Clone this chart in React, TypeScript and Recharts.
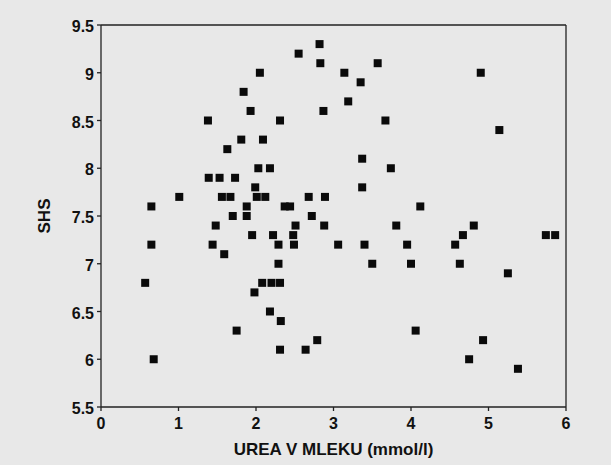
import React from 'react';
import { ScatterChart, Scatter, XAxis, YAxis, ReferenceLine } from 'recharts';

const urea: number[] = [
  2.82, 2.55, 2.83, 3.57, 2.05, 3.14, 4.9, 3.35, 1.84, 3.19, 1.93, 2.87, 1.38, 2.31, 3.67, 5.14,
  1.81, 2.09, 1.63, 3.37, 2.03, 2.18, 3.74, 1.39, 1.53, 1.73, 1.99, 3.37, 1.01, 1.56, 1.67, 2.01,
  2.12, 2.68, 2.89, 0.65, 1.88, 2.37, 2.44, 4.12, 1.7, 1.88, 2.72, 1.48, 2.51, 2.88, 3.81, 4.81,
  1.95, 2.22, 2.48, 4.67, 5.74, 5.86, 0.65, 1.44, 2.29, 2.49, 3.06, 3.4, 3.95, 4.57, 1.59, 2.29,
  3.5, 4.0, 4.63, 5.25, 0.57, 2.08, 2.2, 2.31, 1.98, 2.18, 2.32, 1.75, 4.06, 4.93, 2.79, 2.31,
  2.64, 0.68, 4.75, 5.38,
];
const shs: number[] = [
  9.3, 9.2, 9.1, 9.1, 9.0, 9.0, 9.0, 8.9, 8.8, 8.7, 8.6, 8.6, 8.5, 8.5, 8.5, 8.4,
  8.3, 8.3, 8.2, 8.1, 8.0, 8.0, 8.0, 7.9, 7.9, 7.9, 7.8, 7.8, 7.7, 7.7, 7.7, 7.7,
  7.7, 7.7, 7.7, 7.6, 7.6, 7.6, 7.6, 7.6, 7.5, 7.5, 7.5, 7.4, 7.4, 7.4, 7.4, 7.4,
  7.3, 7.3, 7.3, 7.3, 7.3, 7.3, 7.2, 7.2, 7.2, 7.2, 7.2, 7.2, 7.2, 7.2, 7.1, 7.0,
  7.0, 7.0, 7.0, 6.9, 6.8, 6.8, 6.8, 6.8, 6.7, 6.5, 6.4, 6.3, 6.3, 6.2, 6.2, 6.1,
  6.1, 6.0, 6.0, 5.9,
];
const xTicks: number[] = [0, 1, 2, 3, 4, 5, 6];
const yTicks: number[] = [5.5, 6, 6.5, 7, 7.5, 8, 8.5, 9, 9.5];
const xTitle = 'UREA V MLEKU (mmol/l)';
const yTitle = 'SHS';

const data = urea.map((u, i) => ({ x: u, y: shs[i] }));

const BG = '#e8e8e8';
if (typeof document !== 'undefined') {
  document.body.style.background = BG;
  document.body.style.margin = '0';
  document.documentElement.style.background = BG;
}

const FONT = 'Arial, "Liberation Sans", Helvetica, sans-serif';

const SquareMark = (props: any) => {
  const { cx, cy } = props;
  if (cx == null || cy == null) return null;
  return <rect x={cx - 4} y={cy - 4} width={8} height={8} fill="#0a0a0a" />;
};

const XTick = (props: any) => {
  const { x, y, payload } = props;
  return (
    <text x={x} y={y} dy={10} textAnchor="middle" fill="#111" fontSize={16} fontWeight="bold" fontFamily={FONT}>
      {payload.value}
    </text>
  );
};

const YTick = (props: any) => {
  const { x, y, payload } = props;
  return (
    <text x={x} y={y} dy={7} textAnchor="end" fill="#111" fontSize={16} fontWeight="bold" fontFamily={FONT}>
      {payload.value}
    </text>
  );
};

export default function App() {
  return (
    <div style={{ width: 611, height: 465, background: BG, overflow: 'hidden' }}>
      <ScatterChart width={611} height={465} margin={{ top: 25, right: 45, left: 0, bottom: 0 }}>
        <XAxis
          type="number"
          dataKey="x"
          domain={[0, 6]}
          ticks={xTicks}
          allowDataOverflow
          height={58}
          tickSize={4}
          tickMargin={8}
          stroke="#222"
          axisLine={{ stroke: '#222', strokeWidth: 1.3 }}
          tickLine={{ stroke: '#222', strokeWidth: 1.3 }}
          tick={<XTick />}
          label={{ value: xTitle, position: 'insideBottom', offset: 10, fill: '#111', fontSize: 17, fontWeight: 'bold', fontFamily: FONT }}
        />
        <YAxis
          type="number"
          dataKey="y"
          domain={[5.5, 9.5]}
          ticks={yTicks}
          allowDataOverflow
          width={101}
          tickSize={4}
          tickMargin={3}
          stroke="#222"
          axisLine={{ stroke: '#222', strokeWidth: 1.3 }}
          tickLine={{ stroke: '#222', strokeWidth: 1.3 }}
          tick={<YTick />}
          label={{ value: yTitle, angle: -90, position: 'center', dx: -6.5, fill: '#111', fontSize: 17, fontWeight: 'bold', fontFamily: FONT }}
        />
        <ReferenceLine y={9.5} stroke="#222" strokeWidth={1.3} />
        <ReferenceLine x={6} stroke="#222" strokeWidth={1.3} />
        <Scatter data={data} shape={SquareMark} isAnimationActive={false} />
      </ScatterChart>
    </div>
  );
}
